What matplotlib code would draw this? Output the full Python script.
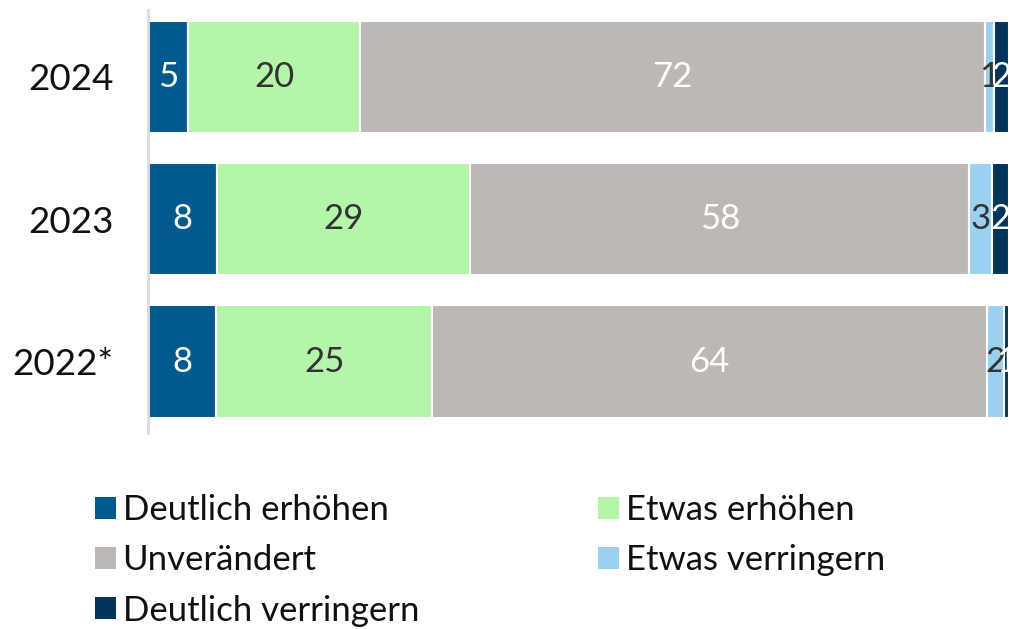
import matplotlib.pyplot as plt
from matplotlib.patches import Patch
import numpy as np

plt.rcParams['font.family'] = ['Lato', 'DejaVu Sans']

# data (shares in %)
years = ['2024', '2023', '2022*']
series = ['Deutlich erhöhen', 'Etwas erhöhen', 'Unverändert',
          'Etwas verringern', 'Deutlich verringern']
deutlich_erhoehen = [4.7, 8.0, 7.9]
etwas_erhoehen = [19.9, 29.4, 25.1]
unveraendert = [72.6, 58.0, 64.4]
etwas_verringern = [1.0, 2.6, 2.0]
deutlich_verringern = [1.8, 2.0, 0.6]
labels = [[5, 8, 8], [20, 29, 25], [72, 58, 64], [1, 3, 2], [2, 2, 1]]

colors = ['#005a8c', '#b4f5a9', '#bdb8b5', '#9bd0ee', '#003559']
text_colors = ['white', '#333333', 'white', '#333333', 'white']

values = [deutlich_erhoehen, etwas_erhoehen, unveraendert,
          etwas_verringern, deutlich_verringern]

fig = plt.figure(figsize=(10.09, 6.29), dpi=100)
ax = fig.add_axes([0.1467, 0.312, 0.8533, 0.672])

y = np.arange(len(years))
left = np.zeros(len(years))
for i, vals in enumerate(values):
    vals = np.array(vals)
    ax.barh(y, vals, left=left, height=0.79, color=colors[i],
            edgecolor='white', linewidth=1.5)
    for j in range(len(years)):
        ax.text(left[j] + vals[j] / 2, y[j], str(labels[i][j]),
                ha='center', va='center', fontsize=25,
                color=text_colors[i])
    left += vals

ax.set_xlim(0, 100)
ax.set_ylim(2.5, -0.47)
ax.set_yticks(y)
ax.set_yticklabels(years, fontsize=26.5, color='#111111')
ax.tick_params(axis='y', length=0, pad=25)
ax.set_xticks([])
for s in ['top', 'right', 'bottom']:
    ax.spines[s].set_visible(False)
ax.spines['left'].set_color('#dcdcdc')
ax.spines['left'].set_linewidth(2)

# legend: row-major order in the picture, matplotlib fills by columns
order = [0, 2, 4, 1, 3]
handles = [Patch(facecolor=colors[k], edgecolor='none') for k in order]
fig.legend(handles, [series[k] for k in order], ncol=2,
           loc='upper left', bbox_to_anchor=(0.094, 0.214),
           borderaxespad=0, borderpad=0,
           frameon=False, fontsize=25, handlelength=0.6, handleheight=0.6,
           handletextpad=0.2, columnspacing=5.15, labelspacing=0.52,
           labelcolor='#111111')

fig.savefig('out.png', dpi=100)
